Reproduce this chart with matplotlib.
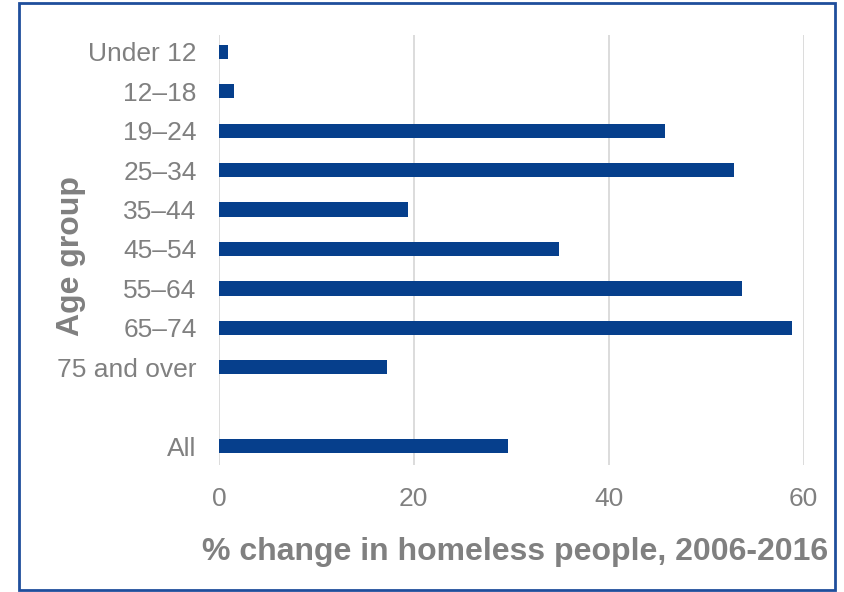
import matplotlib.pyplot as plt
from matplotlib.patches import Rectangle

# Data
age_groups = ['Under 12', '12–18', '19–24', '25–34', '35–44', '45–54',
              '55–64', '65–74', '75 and over', 'All']
pct_change = [0.95, 1.6, 45.8, 52.9, 19.4, 34.9, 53.7, 58.8, 17.3, 29.7]
slots = [0, 1, 2, 3, 4, 5, 6, 7, 8, 10]   # gap before "All"
x_ticks = [0, 20, 40, 60]

bar_color = '#063f8c'
text_gray = '#808080'

plt.rcParams['font.family'] = ['Liberation Sans', 'DejaVu Sans']

fig = plt.figure(figsize=(8.45, 5.92), dpi=100)
ax = fig.add_axes([0.259, 0.2145, 0.692, 0.7265])

ax.barh(slots, pct_change, height=0.36, color=bar_color, zorder=3)

ax.set_xlim(0, 60)
ax.set_ylim(10.48, -0.43)
ax.set_xticks(x_ticks)
ax.set_yticks(slots)
ax.set_yticklabels(age_groups)
ax.tick_params(axis='both', length=0, labelsize=19, labelcolor=text_gray)
ax.tick_params(axis='y', pad=16)
ax.tick_params(axis='x', pad=16)
ax.grid(axis='x', color='#d9d9d9', linewidth=1.3, zorder=0)
for s in ax.spines.values():
    s.set_visible(False)

ax.set_xlabel('% change in homeless people, 2006-2016', fontsize=23,
              fontweight='bold', color=text_gray)
ax.xaxis.set_label_coords(0.506, -0.203)
ax.xaxis.label.set_va('center')
ax.set_ylabel('Age group', fontsize=23, fontweight='bold', color=text_gray)
ax.yaxis.set_label_coords(-0.253, 0.485)
ax.yaxis.label.set_va('center')

# frame around the whole chart
fig.patches.append(Rectangle((0.0225, 0.004), 0.966, 0.991, transform=fig.transFigure,
                             fill=False, edgecolor='#1f4e9c', linewidth=2))

fig.savefig('out.png', dpi=100)
